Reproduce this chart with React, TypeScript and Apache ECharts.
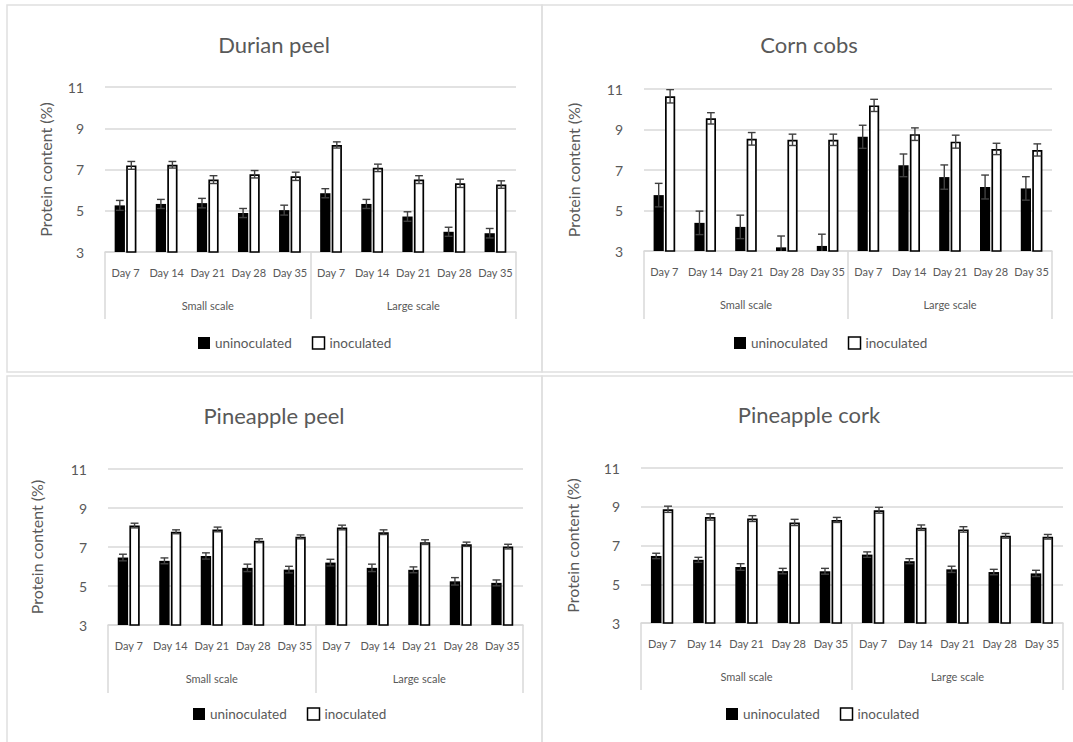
import React, { useEffect, useRef } from "react";
import * as echarts from "echarts";

// ---------- data ----------
const days = ["Day 7", "Day 14", "Day 21", "Day 28", "Day 35", "Day 7", "Day 14", "Day 21", "Day 28", "Day 35"];
const scaleGroups = ["Small scale", "Large scale"];
const seriesNames = ["uninoculated", "inoculated"];
const panelTitles = ["Durian peel", "Corn cobs", "Pineapple peel", "Pineapple cork"];
const yAxisName = "Protein content (%)";
const yMin = 3;
const yMax = 11;
const yStep = 2;

const durianUninoc = [5.26, 5.33, 5.37, 4.89, 5.03, 5.85, 5.33, 4.72, 3.98, 3.91];
const durianUninocErr = [0.24, 0.22, 0.23, 0.22, 0.24, 0.22, 0.22, 0.23, 0.22, 0.23];
const durianInoc = [7.2, 7.23, 6.51, 6.77, 6.67, 8.19, 7.08, 6.51, 6.33, 6.27];
const durianInocErr = [0.19, 0.16, 0.19, 0.18, 0.2, 0.15, 0.18, 0.19, 0.2, 0.18];

const cornUninoc = [5.76, 4.39, 4.19, 3.18, 3.25, 8.64, 7.23, 6.65, 6.16, 6.09];
const cornUninocErr = [0.58, 0.58, 0.58, 0.56, 0.58, 0.57, 0.56, 0.6, 0.59, 0.58];
const cornInoc = [10.64, 9.55, 8.54, 8.49, 8.49, 10.19, 8.77, 8.4, 8.04, 7.99];
const cornInocErr = [0.33, 0.28, 0.31, 0.28, 0.28, 0.3, 0.31, 0.32, 0.28, 0.3];

const peelUninoc = [6.46, 6.29, 6.54, 5.93, 5.84, 6.2, 5.93, 5.83, 5.24, 5.16];
const peelUninocErr = [0.17, 0.15, 0.16, 0.19, 0.17, 0.17, 0.19, 0.15, 0.19, 0.15];
const peelInoc = [8.1, 7.78, 7.9, 7.32, 7.52, 8.0, 7.76, 7.25, 7.14, 7.02];
const peelInocErr = [0.12, 0.1, 0.12, 0.1, 0.1, 0.12, 0.12, 0.12, 0.11, 0.12];

const corkUninoc = [6.46, 6.26, 5.89, 5.68, 5.67, 6.53, 6.19, 5.77, 5.63, 5.56];
const corkUninocErr = [0.14, 0.13, 0.17, 0.14, 0.15, 0.14, 0.13, 0.16, 0.14, 0.16];
const corkInoc = [8.87, 8.47, 8.39, 8.19, 8.32, 8.82, 7.92, 7.83, 7.5, 7.45];
const corkInocErr = [0.16, 0.16, 0.15, 0.16, 0.13, 0.15, 0.14, 0.14, 0.12, 0.12];

const panelData = [
  { uninoc: durianUninoc, uninocErr: durianUninocErr, inoc: durianInoc, inocErr: durianInocErr },
  { uninoc: cornUninoc, uninocErr: cornUninocErr, inoc: cornInoc, inocErr: cornInocErr },
  { uninoc: peelUninoc, uninocErr: peelUninocErr, inoc: peelInoc, inocErr: peelInocErr },
  { uninoc: corkUninoc, uninocErr: corkUninocErr, inoc: corkInoc, inocErr: corkInocErr },
];

// ---------- layout ----------
const layouts = [
  { left: 105, top: 87, width: 411, height: 165, titleX: 274, titleY: 44, legendLeft: 193, legendY: 338, tickLen: 67, nameGap: 52, box: [7, 5, 535, 367] },
  { left: 644, top: 89, width: 408, height: 162, titleX: 809, titleY: 44, legendLeft: 729, legendY: 338, tickLen: 68, nameGap: 63, box: [542, 5, 545, 367] },
  { left: 108, top: 469, width: 415, height: 156, titleX: 274, titleY: 415, legendLeft: 188, legendY: 709, tickLen: 68, nameGap: 64, box: [7, 376, 535, 380] },
  { left: 641, top: 468, width: 422, height: 155, titleX: 809, titleY: 414, legendLeft: 721, legendY: 709, tickLen: 67, nameGap: 61, box: [542, 376, 545, 380] },
];

const TEXT = "#595959";
const GRID = "#d9d9d9";
const FONT = "Lato, 'Noto Sans', sans-serif";
const BAR_W = 0.25;
const BAR_GAP = 0.12;

function makeErrorRender(side: number) {
  return function (params: any, api: any) {
    const x = api.value(0);
    const v = api.value(1);
    const e = api.value(2);
    const band = api.size([1, 0])[0];
    const bw = band * BAR_W;
    const off = ((bw * (1 + BAR_GAP)) / 2) * side;
    const top = api.coord([x, v + e]);
    const bot = api.coord([x, v - e]);
    const cx = top[0] + off;
    const hw = bw * 0.38;
    const style = { stroke: "#404040", lineWidth: 1.4 };
    return {
      type: "group",
      children: [
        { type: "line", shape: { x1: cx, y1: top[1], x2: cx, y2: bot[1] }, style },
        { type: "line", shape: { x1: cx - hw, y1: top[1], x2: cx + hw, y2: top[1] }, style },
        { type: "line", shape: { x1: cx - hw, y1: bot[1], x2: cx + hw, y2: bot[1] }, style },
      ],
    };
  };
}

function buildOption() {
  const grid: any[] = [];
  const xAxis: any[] = [];
  const yAxis: any[] = [];
  const series: any[] = [];
  const legend: any[] = [];
  const graphic: any[] = [];

  layouts.forEach((L, k) => {
    grid.push({ left: L.left, top: L.top, width: L.width, height: L.height });
    xAxis.push({
      type: "category",
      gridIndex: k,
      data: days,
      position: "bottom",
      axisLine: { show: true, lineStyle: { color: GRID, width: 1.5 } },
      axisTick: { show: false },
      axisLabel: { interval: 0, margin: 15, color: TEXT, fontSize: 11, fontFamily: FONT },
    });
    xAxis.push({
      type: "category",
      gridIndex: k,
      data: scaleGroups,
      position: "bottom",
      axisLine: { show: false },
      axisTick: { show: true, interval: 0, length: L.tickLen, lineStyle: { color: GRID, width: 1.5 } },
      axisLabel: { interval: 0, margin: 48, color: TEXT, fontSize: 11, fontFamily: FONT },
    });
    yAxis.push({
      type: "value",
      gridIndex: k,
      min: yMin,
      max: yMax,
      interval: yStep,
      name: yAxisName,
      nameLocation: "middle",
      nameRotate: 90,
      nameGap: L.nameGap,
      nameTextStyle: { color: TEXT, fontSize: 16, fontFamily: FONT },
      axisLine: { show: false },
      axisTick: { show: false },
      axisLabel: { margin: 21, color: TEXT, fontSize: 14, fontFamily: FONT },
      splitLine: { show: true, lineStyle: { color: GRID, width: 1.5 } },
    });

    const D = panelData[k];
    series.push({
      name: seriesNames[0],
      type: "bar",
      xAxisIndex: 2 * k,
      yAxisIndex: k,
      data: D.uninoc,
      barWidth: BAR_W * 100 + "%",
      barGap: BAR_GAP * 100 + "%",
      itemStyle: { color: "#000000" },
    });
    series.push({
      name: seriesNames[1],
      type: "bar",
      xAxisIndex: 2 * k,
      yAxisIndex: k,
      data: D.inoc,
      barWidth: BAR_W * 100 + "%",
      barGap: BAR_GAP * 100 + "%",
      itemStyle: { color: "#ffffff", borderColor: "#000000", borderWidth: 1.7 },
    });
    series.push({
      name: "err-u-" + k,
      type: "custom",
      xAxisIndex: 2 * k,
      yAxisIndex: k,
      clip: true,
      z: 5,
      renderItem: makeErrorRender(-1),
      data: D.uninoc.map((v, i) => [i, v, D.uninocErr[i]]),
    });
    series.push({
      name: "err-i-" + k,
      type: "custom",
      xAxisIndex: 2 * k,
      yAxisIndex: k,
      clip: true,
      z: 5,
      renderItem: makeErrorRender(1),
      data: D.inoc.map((v, i) => [i, v, D.inocErr[i]]),
    });

    legend.push({
      left: L.legendLeft,
      top: L.legendY - 7,
      itemWidth: 12,
      itemHeight: 12,
      itemGap: 20,
      selectedMode: false,
      textStyle: { color: TEXT, fontSize: 13.5, fontFamily: FONT },
      data: [
        { name: seriesNames[0], icon: "rect", itemStyle: { color: "#000000" } },
        { name: seriesNames[1], icon: "rect", itemStyle: { color: "#ffffff", borderColor: "#000000", borderWidth: 1.5 } },
      ],
    });

    graphic.push({
      type: "rect",
      silent: true,
      shape: { x: L.box[0], y: L.box[1], width: L.box[2], height: L.box[3] },
      style: { fill: "none", stroke: "#e0e0e0", lineWidth: 1.5 },
      z: -1,
    });
    graphic.push({
      type: "text",
      silent: true,
      x: L.titleX,
      y: L.titleY,
      style: {
        text: panelTitles[k],
        fill: TEXT,
        fontSize: 22,
        fontFamily: FONT,
        align: "center",
        verticalAlign: "middle",
      },
    });
  });

  return {
    animation: false,
    backgroundColor: "#ffffff",
    textStyle: { fontFamily: FONT },
    grid,
    xAxis,
    yAxis,
    series,
    legend,
    graphic,
  };
}

export default function App() {
  const ref = useRef<HTMLDivElement | null>(null);
  useEffect(() => {
    if (!ref.current) return;
    const chart = echarts.init(ref.current, undefined, { renderer: "svg" });
    chart.setOption(buildOption() as any);
    return () => {
      chart.dispose();
    };
  }, []);
  return (
    <div
      ref={ref}
      style={{ position: "absolute", left: 0, top: 0, width: 1073, height: 742, background: "#fff" }}
    />
  );
}
